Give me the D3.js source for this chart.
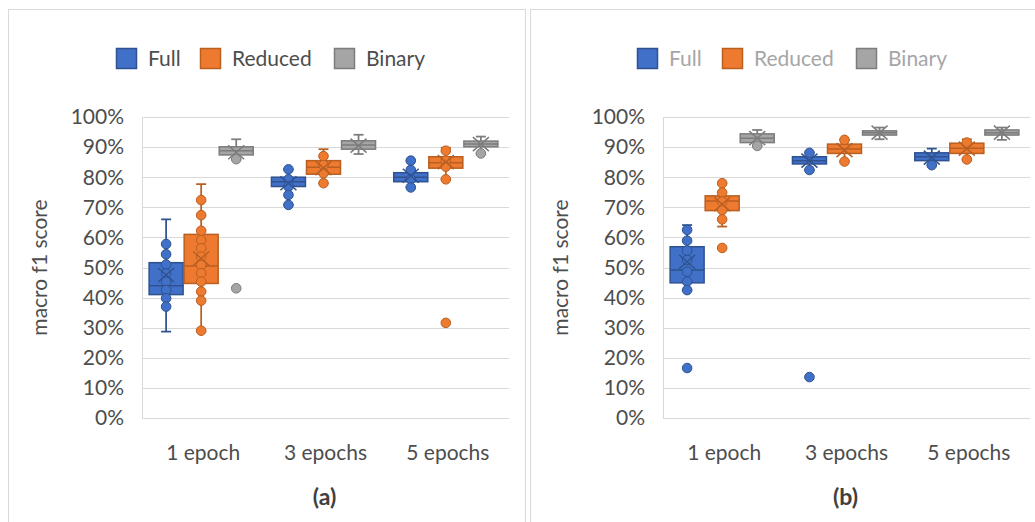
<!DOCTYPE html>
<html>
<head>
<meta charset="utf-8">
<script src="https://cdn.jsdelivr.net/npm/d3@7"></script>
<style>
  body { margin: 0; background: #fff; }
  svg { display: block; font-family: Lato, "Noto Sans", sans-serif; }
</style>
</head>
<body>
<svg id="chart" width="1035" height="522"></svg>
<script>
const categories = ["1 epoch", "3 epochs", "5 epochs"]
const seriesNames = ["Full", "Reduced", "Binary"]
const yTicks = [0, 0.1, 0.2, 0.3, 0.4, 0.5, 0.6, 0.7, 0.8, 0.9, 1]

// box stats per category, in %: [low whisker, q1, median, q3, high whisker, mean]
const aFullStats = [[28.7, 41, 43.9, 51.6, 66, 47.5], [70.8, 76.9, 78.5, 80, 82.6, 78], [76.6, 78.5, 80, 81.5, 85.5, 80.5]]
const aReducedStats = [[29, 44.7, 50.5, 61, 77.7, 53], [78, 81, 83.3, 85.5, 89.3, 83], [79.3, 83, 84.8, 86.8, 89.8, 85]]
const aBinaryStats = [[86, 87.4, 88.8, 90.1, 92.6, 88.3], [87.7, 89.3, 90.7, 92.1, 94.1, 90.5], [87.9, 90.1, 91, 92, 93.5, 91]]
const aFullPoints = [[57.8, 54.4, 51, 48, 45.3, 42.5, 39.8, 37], [82.6, 79.3, 76.9, 74.1, 70.8], [85.5, 82.4, 79.3, 76.6]]
const aReducedPoints = [[72.4, 67.4, 62.2, 59.1, 56.4, 53.6, 50.8, 48.1, 45.3, 42, 39, 29], [87, 84, 81.3, 78], [88.8, 85.5, 83.5, 79.3]]
const aBinaryPoints = [[86], [], [87.9]]
const aFullOutliers = [[], [], []]
const aReducedOutliers = [[], [], [31.6]]
const aBinaryOutliers = [[43.1], [], []]

const bFullStats = [[42.5, 44.9, 49.2, 56.9, 64.1, 51.9], [82.4, 84.4, 85.5, 86.8, 88.1, 85.5], [84, 85.5, 86.8, 88.1, 89.5, 86.5]]
const bReducedStats = [[63.6, 68.9, 72.1, 73.8, 78, 71], [85.2, 87.9, 89.4, 91, 92.4, 89], [85.9, 87.9, 89.6, 91.3, 92.6, 89.5]]
const bBinaryStats = [[90.4, 91.5, 92.9, 94.4, 95.7, 93], [92.6, 94, 94.8, 95.4, 96.5, 94.8], [92.4, 94, 94.8, 95.7, 96.5, 94.8]]
const bFullPoints = [[62.5, 58.9, 55.6, 52.5, 48.6, 45.3, 42.5], [88.1, 82.4], [84]]
const bReducedPoints = [[78, 74.9, 71.9, 69.1, 66], [92.4, 85.2], [91.5, 85.9]]
const bBinaryPoints = [[90.4], [], []]
const bFullOutliers = [[16.6], [13.6], []]
const bReducedOutliers = [[56.5], [], []]
const bBinaryOutliers = [[], [], []]

const fills = ["#4070C8", "#ED7A2E", "#A5A5A5"]
const strokes = ["#2F528F", "#B85F22", "#7C7C7C"]

const panels = [
  { title: "(a)", frameX: 8, frameW: 517, plotX: 142, legendX: [116, 200, 334], legendColor: "#4D4D4D",
    stats: [aFullStats, aReducedStats, aBinaryStats],
    points: [aFullPoints, aReducedPoints, aBinaryPoints],
    outliers: [aFullOutliers, aReducedOutliers, aBinaryOutliers] },
  { title: "(b)", frameX: 530, frameW: 520, plotX: 663, legendX: [637, 722, 856], legendColor: "#A6A6A6",
    stats: [bFullStats, bReducedStats, bBinaryStats],
    points: [bFullPoints, bReducedPoints, bBinaryPoints],
    outliers: [bFullOutliers, bReducedOutliers, bBinaryOutliers] }
]

const plotW = 367, plotTop = 117, plotBottom = 418
const textColor = "#4D4D4D"

const svg = d3.select("#chart")

const y = d3.scaleLinear().domain([0, 1]).range([plotBottom, plotTop])

panels.forEach(p => {
  // frame
  svg.append("rect")
    .attr("x", p.frameX + 0.5).attr("y", 9.5)
    .attr("width", p.frameW).attr("height", 540)
    .attr("fill", "none").attr("stroke", "#D9D9D9")

  const x0 = d3.scaleBand().domain(categories).range([p.plotX, p.plotX + plotW])
  const x1 = d3.scaleBand().domain(seriesNames).range([-2, x0.bandwidth() - 2])
    .paddingInner(0.03).paddingOuter(0.26)

  const g = svg.append("g")

  // gridlines
  g.selectAll(".grid").data(yTicks).join("line")
    .attr("x1", p.plotX).attr("x2", p.plotX + plotW)
    .attr("y1", d => Math.round(y(d)) + 0.5).attr("y2", d => Math.round(y(d)) + 0.5)
    .attr("stroke", "#D9D9D9").attr("stroke-width", 1)
  g.append("line")
    .attr("x1", p.plotX + 0.5).attr("x2", p.plotX + 0.5)
    .attr("y1", plotTop).attr("y2", plotBottom)
    .attr("stroke", "#D9D9D9")

  // y tick labels
  g.selectAll(".ytick").data(yTicks).join("text")
    .attr("x", p.plotX - 18).attr("y", d => y(d))
    .attr("dy", "0.35em").attr("text-anchor", "end")
    .attr("fill", textColor).attr("font-size", 21)
    .text(d3.format(".0%"))

  // x labels
  g.selectAll(".xtick").data(categories).join("text")
    .attr("x", d => x0(d) + x0.bandwidth() / 2).attr("y", 460)
    .attr("text-anchor", "middle")
    .attr("fill", textColor).attr("font-size", 21)
    .text(d => d)

  // axis titles
  g.append("text")
    .attr("transform", `translate(${p.plotX - 95},${(plotTop + plotBottom) / 2}) rotate(-90)`)
    .attr("text-anchor", "middle")
    .attr("fill", textColor).attr("font-size", 21)
    .text("macro f1 score")
  g.append("text")
    .attr("x", p.plotX + plotW / 2 - 1).attr("y", 505)
    .attr("text-anchor", "middle")
    .attr("fill", "#404040").attr("font-size", 23).attr("font-weight", "bold")
    .text(p.title)

  // legend
  seriesNames.forEach((s, i) => {
    g.append("rect")
      .attr("x", p.legendX[i] + 0.5).attr("y", 48.5)
      .attr("width", 20).attr("height", 20)
      .attr("fill", fills[i]).attr("stroke", strokes[i]).attr("stroke-width", 1.5)
    g.append("text")
      .attr("x", p.legendX[i] + 32).attr("y", 66)
      .attr("fill", p.legendColor).attr("font-size", 21)
      .text(s)
  })

  // boxes
  seriesNames.forEach((s, si) => {
    categories.forEach((c, ci) => {
      const [lo, q1, med, q3, hi, mean] = p.stats[si][ci].map(v => v / 100)
      const bx = x0(c) + x1(s)
      const bw = x1.bandwidth()
      const cx = bx + bw / 2
      const box = g.append("g")

      box.append("line")
        .attr("x1", cx).attr("x2", cx).attr("y1", y(hi)).attr("y2", y(q3))
        .attr("stroke", strokes[si]).attr("stroke-width", 1.75)
      box.append("line")
        .attr("x1", cx).attr("x2", cx).attr("y1", y(q1)).attr("y2", y(lo))
        .attr("stroke", strokes[si]).attr("stroke-width", 1.75)
      ;[lo, hi].forEach(v => {
        box.append("line")
          .attr("x1", cx - 5).attr("x2", cx + 5).attr("y1", y(v)).attr("y2", y(v))
          .attr("stroke", strokes[si]).attr("stroke-width", 1.75)
      })
      box.append("rect")
        .attr("x", bx).attr("y", y(q3))
        .attr("width", bw).attr("height", y(q1) - y(q3))
        .attr("fill", fills[si]).attr("stroke", strokes[si]).attr("stroke-width", 1.5)
      box.append("line")
        .attr("x1", bx).attr("x2", bx + bw).attr("y1", y(med)).attr("y2", y(med))
        .attr("stroke", strokes[si]).attr("stroke-width", 1.5)

      const pts = p.points[si][ci].concat(p.outliers[si][ci])
      box.selectAll("circle").data(pts).join("circle")
        .attr("cx", cx).attr("cy", d => y(d / 100)).attr("r", 4.8)
        .attr("fill", fills[si]).attr("stroke", strokes[si]).attr("stroke-width", 1)

      // mean marker
      const my = y(mean)
      box.append("path")
        .attr("d", `M${cx - 8},${my - 7}L${cx + 8},${my + 7}M${cx - 8},${my + 7}L${cx + 8},${my - 7}`)
        .attr("stroke", strokes[si]).attr("stroke-width", 1.5).attr("fill", "none")
    })
  })
})
</script>
</body>
</html>
